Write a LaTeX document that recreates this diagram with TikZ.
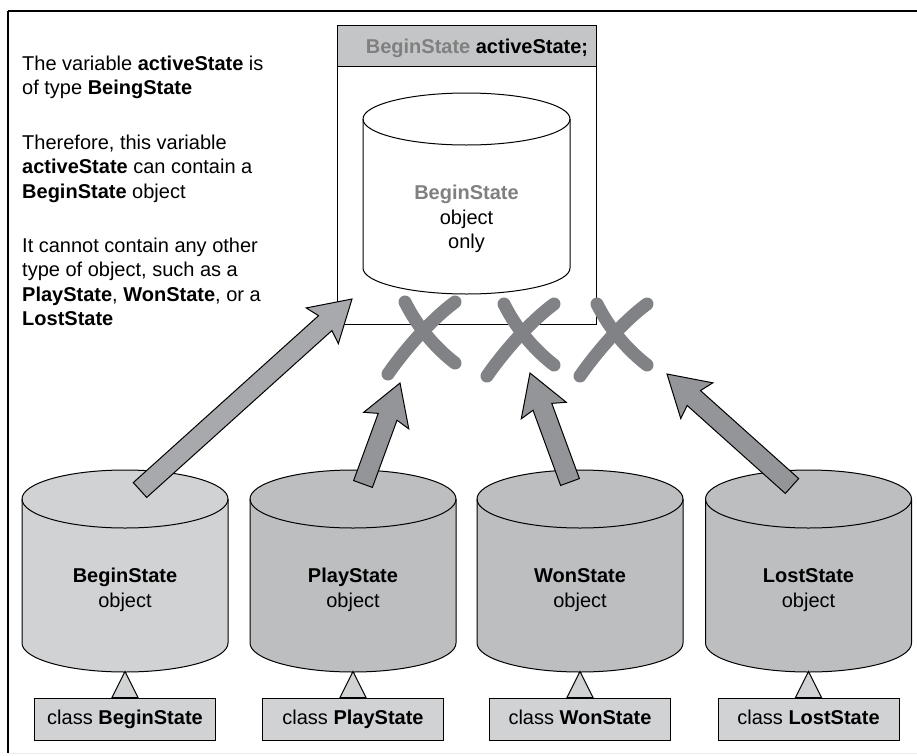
\documentclass[tikz,border=0pt]{standalone}
\usepackage{fontspec}
\setmainfont{Liberation Sans}
\usetikzlibrary{calc}
\definecolor{hdrcol}{RGB}{196,197,199}
\definecolor{lightcol}{RGB}{209,210,212}
\definecolor{midcol}{RGB}{188,190,192}
\definecolor{arrA}{RGB}{167,169,172}
\definecolor{arrB}{RGB}{147,149,152}
\definecolor{xcol}{RGB}{128,130,133}
\definecolor{txtgray}{RGB}{128,128,128}
\newcommand\fatarrow[3]{%
  \coordinate (fa-n) at ($(#3)!36pt!(#2)$);
  \coordinate (fa-b) at ($(#3)!40pt!(#2)$);
  \filldraw[#1] ($(#2)!10pt!90:(#3)$) -- ($(fa-n)!10pt!90:(#3)$) -- ($(fa-b)!24pt!90:(#3)$) -- (#3)
     -- ($(fa-b)!24pt!-90:(#3)$) -- ($(fa-n)!10pt!-90:(#3)$) -- ($(#2)!10pt!-90:(#3)$) -- cycle;}
\newcommand\cylshape[6]{%
  \filldraw[#1] ({#2-#3},#4) -- ({#2-#3},#5) arc[start angle=180,end angle=360,x radius=#3pt,y radius=#6pt]
     -- ({#2+#3},#4) arc[start angle=0,end angle=180,x radius=#3pt,y radius=#6pt] -- cycle;
  \draw[#1,fill=none] ({#2-#3},#4) arc[start angle=180,end angle=360,x radius=#3pt,y radius=#6pt];}
\newcommand\xcross[1]{%
  \begin{scope}[shift={(#1)}]
    \draw[xstroke] (5,-6) .. controls (18,-25) and (45,-58) .. (72,-78);
    \draw[xstroke] (22,-78) .. controls (30,-62) and (45,-38) .. (72,-17);
  \end{scope}}
\tikzset{
  every node/.style={font=\fontsize{20}{24.5}\selectfont},
  outline/.style={draw=black,line width=1pt},
  classbox/.style={outline,fill=lightcol,minimum width=181pt,minimum height=42pt,inner sep=0pt,text height=14.5pt,text depth=4pt},
  tri/.style={outline,fill=lightcol},
  objtext/.style={align=center,inner sep=0pt},
  lefttext/.style={align=left,inner sep=0pt,anchor=base west},
  xstroke/.style={draw=xcol,line width=13pt,line cap=round},
  arrowA/.style={outline,fill=arrA},
  arrowB/.style={outline,fill=arrB}
}
\begin{document}
\begin{tikzpicture}[x=1pt,y=-1pt]
\useasboundingbox (0,0) rectangle (917,755);
% frame
\draw[line width=2.5pt] (8,11) -- (917,11);
\draw[line width=1.5pt] (8,11) -- (8,753);
\draw[line width=1pt,draw=black!8] (8,753.5) -- (917,753.5);
% left text (anchor = baseline of last line)
\node[lefttext] (p1) at (22,94.5) {The variable \textbf{activeState} is\\of type \textbf{BeingState}};
\node[lefttext] (p2) at (22,198) {Therefore, this variable\\\textbf{activeState} can contain a\\\textbf{BeginState} object};
\node[lefttext] (p3) at (22,325.5) {It cannot contain any other\\type of object, such as a\\\textbf{PlayState}, \textbf{WonState}, or a\\\textbf{LostState}};
% holder box
\node[outline,fill=white,anchor=north west,minimum width=259pt,minimum height=299pt,inner sep=0pt] (holder) at (337,25) {};
\node[outline,fill=hdrcol,anchor=north west,minimum width=259pt,minimum height=41pt,inner sep=0pt] (hdr) at (337,25) {};
\node[anchor=base,inner sep=0pt] (hdrtext) at (477,53) {\textbf{\textcolor{txtgray}{BeginState} activeState;}};
\cylshape{outline,fill=white}{466.5}{103.5}{119}{268}{26}
\node[objtext] (only) at (466.5,219) {\textbf{\textcolor{txtgray}{BeginState}}\\object\\only};
% bottom cylinders
\foreach \cx/\fc/\nm/\id in {125/lightcol/BeginState/B, 353/midcol/PlayState/P, 580/midcol/WonState/W, 808.5/midcol/LostState/L}{
  \cylshape{outline,fill=\fc}{\cx}{103}{499}{643}{29}
  \node[objtext] (o\id) at (\cx,590) {\textbf{\nm}\\object};
  \node[classbox] (c\id) at (\cx,719) {class \textbf{\nm}};
  \filldraw[tri] (c\id.north) ++(-13,0) -- ++(13,-26) -- ++(13,26) -- cycle;
}
% crosses
\xcross{383,380}
\xcross{482,382}
\xcross{575,382}
% arrows
\coordinate (tB) at (140,490); \coordinate (hB) at (352,299);
\coordinate (tP) at (363,484); \coordinate (hP) at (400,383);
\coordinate (tW) at (570,482); \coordinate (hW) at (530,373);
\coordinate (tL) at (792,486); \coordinate (hL) at (667,374);
\fatarrow{arrowA}{tB}{hB}
\fatarrow{arrowB}{tP}{hP}
\fatarrow{arrowB}{tW}{hW}
\fatarrow{arrowB}{tL}{hL}
\end{tikzpicture}
\end{document}
